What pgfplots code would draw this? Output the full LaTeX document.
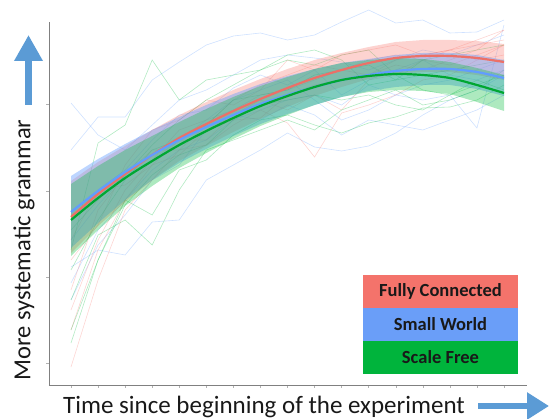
\documentclass[border=0pt]{standalone}
\usepackage{pgfplots}
\pgfplotsset{compat=1.18}
\usepackage{pgfplotstable}
\usetikzlibrary{arrows.meta}
\usepackage{fontspec}
\setmainfont{Carlito}
\definecolor{fcred}{HTML}{F8766D}
\definecolor{swblue}{HTML}{619CFF}
\definecolor{sfgreen}{HTML}{00BA38}
\definecolor{arrowblue}{HTML}{5B9BD5}
\definecolor{legred}{HTML}{F4736B}
\definecolor{legblue}{HTML}{6A9EF8}
\definecolor{leggreen}{HTML}{00B43C}

% values are pixel heights measured from the top of the picture
\pgfplotstableread{
i rc bc gc
0 217 212 220
1 194 191 198
2 174 172 178
3 155 155 161
4 138 140 145
5 124 127 131
6 111 115 118
7 99 104 106
8 88 95 96
9 78 87 87
10 70 80 80
11 63 75 76
12 58 71 74
13 56 69 75
14 56 69 78
15 58 72 85
16 62 78 93
}\meantab

% band outlines: upper edge forward, lower edge backward
\pgfplotstableread{
i r b g
0 181 176 184
1 162 159 166
2 146 144 150
3 130 130 136
4 115 117 122
5 102 105 109
6 90 94 97
7 79 84 86
8 69 76 77
9 60 69 69
10 53 63 63
11 47 59 60
12 42 55 58
13 40 53 59
14 40 53 62
15 41 55 68
16 44 60 75
16 80 96 111
15 75 89 102
14 72 85 94
13 72 85 91
12 74 87 90
11 79 91 92
10 87 97 97
9 96 105 105
8 107 114 115
7 119 124 126
6 132 136 139
5 146 149 153
4 161 163 168
3 180 180 186
2 202 200 206
1 226 223 230
0 253 248 256
}\bandtab

\pgfplotstableread{
i b1 b2 b3 b4 b5 b6 b7
0 150 103 267 283 240 300 220
1 117 135 250 230 205 245 190
2 117 150 255 200 175 215 170
3 80 125 222 170 160 180 140
4 62 100 220 150 140 165 115
5 45 90 180 140 120 130 110
6 36 75 165 120 100 115 88
7 33 60 150 110 90 120 75
8 40 55 133 100 80 105 85
9 35 58 147 95 100 115 70
10 22 62 151 105 120 135 95
11 10 70 146 85 110 120 80
12 23 60 133 95 95 125 70
13 20 50 115 100 85 130 60
14 33 55 100 95 80 120 75
15 32 45 90 128 70 110 80
16 20 35 75 25 60 95 70
}\bluetab

\pgfplotstableread{
i r1 r2 r3 r4 r5 r6
0 367 310 290 260 240 330
1 280 240 210 225 190 250
2 210 190 175 165 185 200
3 180 160 150 130 165 165
4 150 130 150 120 140 155
5 145 120 125 100 140 130
6 125 110 100 105 115 120
7 110 95 85 90 100 118
8 123 90 75 60 110 95
9 157 80 65 70 95 85
10 113 70 70 55 110 80
11 105 60 75 50 80 75
12 95 55 60 45 75 65
13 80 60 55 55 60 70
14 75 50 50 50 65 60
15 60 40 60 45 55 50
16 45 30 55 40 45 30
}\redtab

\pgfplotstableread{
i g1 g2 g3 g4 g5 g6
0 250 343 300 270 330 230
1 143 260 235 220 260 200
2 125 200 220 180 205 175
3 60 215 245 150 175 145
4 100 170 190 140 155 120
5 80 160 150 125 145 100
6 75 135 140 100 120 85
7 70 120 130 95 105 70
8 55 115 120 90 100 60
9 50 125 130 75 95 65
10 60 133 110 70 100 55
11 85 123 100 65 95 50
12 80 117 90 80 105 75
13 60 108 105 75 110 90
14 55 107 100 70 95 95
15 50 100 90 65 85 80
16 45 85 70 60 75 90
}\greentab

\begin{document}
\begin{tikzpicture}
\begin{axis}[
  scale only axis, width=478pt, height=363pt,
  at={(0pt,0pt)}, anchor=south west,
  xmin=-0.813, xmax=16.85, ymin=0, ymax=363,
  clip=false,
  axis lines*=left,
  axis line style={draw=black!50, line width=0.7pt},
  xtick={0,...,16}, ytick={22,108,194,281},
  xticklabels={}, yticklabels={},
  tick align=outside, major tick length=2.5pt,
  tick style={black!30, line width=0.5pt},
]
% individual runs
\addplot[swblue, opacity=0.3, line width=0.6pt] table[x=i, y expr=385-\thisrow{b1}]{\bluetab};
\addplot[swblue, opacity=0.3, line width=0.6pt] table[x=i, y expr=385-\thisrow{b2}]{\bluetab};
\addplot[swblue, opacity=0.3, line width=0.6pt] table[x=i, y expr=385-\thisrow{b3}]{\bluetab};
\addplot[swblue, opacity=0.3, line width=0.6pt] table[x=i, y expr=385-\thisrow{b4}]{\bluetab};
\addplot[swblue, opacity=0.3, line width=0.6pt] table[x=i, y expr=385-\thisrow{b5}]{\bluetab};
\addplot[swblue, opacity=0.3, line width=0.6pt] table[x=i, y expr=385-\thisrow{b6}]{\bluetab};
\addplot[swblue, opacity=0.3, line width=0.6pt] table[x=i, y expr=385-\thisrow{b7}]{\bluetab};
\addplot[fcred, opacity=0.3, line width=0.6pt] table[x=i, y expr=385-\thisrow{r1}]{\redtab};
\addplot[fcred, opacity=0.3, line width=0.6pt] table[x=i, y expr=385-\thisrow{r2}]{\redtab};
\addplot[fcred, opacity=0.3, line width=0.6pt] table[x=i, y expr=385-\thisrow{r3}]{\redtab};
\addplot[fcred, opacity=0.3, line width=0.6pt] table[x=i, y expr=385-\thisrow{r4}]{\redtab};
\addplot[fcred, opacity=0.3, line width=0.6pt] table[x=i, y expr=385-\thisrow{r5}]{\redtab};
\addplot[fcred, opacity=0.3, line width=0.6pt] table[x=i, y expr=385-\thisrow{r6}]{\redtab};
\addplot[sfgreen, opacity=0.3, line width=0.6pt] table[x=i, y expr=385-\thisrow{g1}]{\greentab};
\addplot[sfgreen, opacity=0.3, line width=0.6pt] table[x=i, y expr=385-\thisrow{g2}]{\greentab};
\addplot[sfgreen, opacity=0.3, line width=0.6pt] table[x=i, y expr=385-\thisrow{g3}]{\greentab};
\addplot[sfgreen, opacity=0.3, line width=0.6pt] table[x=i, y expr=385-\thisrow{g4}]{\greentab};
\addplot[sfgreen, opacity=0.3, line width=0.6pt] table[x=i, y expr=385-\thisrow{g5}]{\greentab};
\addplot[sfgreen, opacity=0.3, line width=0.6pt] table[x=i, y expr=385-\thisrow{g6}]{\greentab};
% confidence bands
\addplot[draw=none, fill=fcred, fill opacity=0.32] table[x=i, y expr=385-\thisrow{r}]{\bandtab} -- cycle;
\addplot[draw=none, fill=swblue, fill opacity=0.42] table[x=i, y expr=385-\thisrow{b}]{\bandtab} -- cycle;
\addplot[draw=none, fill=sfgreen, fill opacity=0.32] table[x=i, y expr=385-\thisrow{g}]{\bandtab} -- cycle;
% mean curves
\addplot[color=fcred!95!black, line width=2.2pt, smooth] table[x=i, y expr=385-\thisrow{rc}]{\meantab};
\addplot[color=swblue, line width=2.2pt, smooth] table[x=i, y expr=385-\thisrow{bc}]{\meantab};
\addplot[color=sfgreen!90!black, line width=2.2pt, smooth] table[x=i, y expr=385-\thisrow{gc}]{\meantab};
\end{axis}
% axis titles with arrows
\node[rotate=90, font=\fontsize{24.5}{29}\selectfont, text=black!90] at (-25pt,135pt) {More systematic grammar};
\draw[arrowblue, line width=7pt, -{Triangle[width=27pt,length=26pt]}] (-20.5pt,280pt) -- (-20.5pt,350pt);
\node[anchor=base, font=\fontsize{25}{30}\selectfont, text=black!90] at (215pt,-28pt) {Time since beginning of the experiment};
\draw[arrowblue, line width=6pt, -{Triangle[width=26pt,length=22pt]}] (429pt,-21pt) -- (500pt,-21pt);
% legend
\fill[legred] (314pt,77pt) rectangle (469pt,110pt);
\fill[legblue] (314pt,44pt) rectangle (469pt,77pt);
\fill[leggreen] (314pt,11pt) rectangle (469pt,44pt);
\node[font=\fontsize{18.5}{22}\selectfont\bfseries, text=black!90] at (391.5pt,93.5pt) {Fully Connected};
\node[font=\fontsize{18.5}{22}\selectfont\bfseries, text=black!90] at (391.5pt,60.5pt) {Small World};
\node[font=\fontsize{18.5}{22}\selectfont\bfseries, text=black!90] at (391.5pt,27.5pt) {Scale Free};
\pgfresetboundingbox
\path (-49pt,-33pt) rectangle (500pt,385pt);
\end{tikzpicture}
\end{document}
